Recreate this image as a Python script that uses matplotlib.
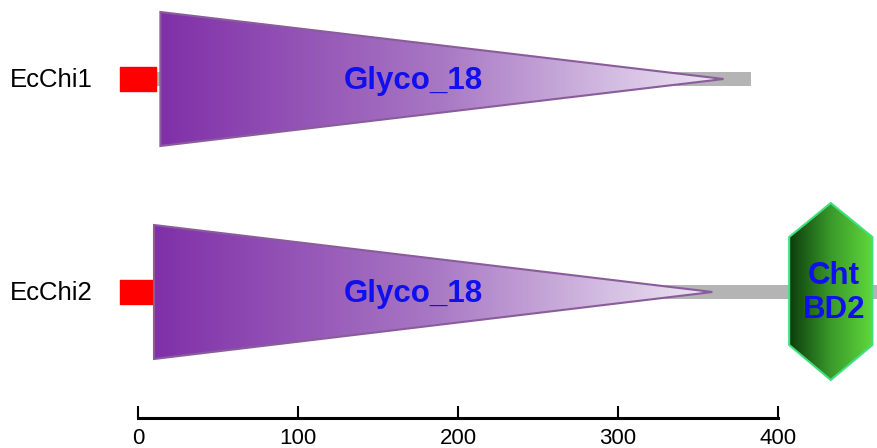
import numpy as np
import matplotlib
matplotlib.use("Agg")
import matplotlib.pyplot as plt
from matplotlib.patches import Polygon, Rectangle
from matplotlib.colors import LinearSegmentedColormap

plt.rcParams["font.family"] = ["Liberation Sans", "DejaVu Sans"]

# protein data (amino acid positions)
proteins = ["EcChi1", "EcChi2"]
lengths = [383, 470]
signal_start = [-11, -11]
signal_end = [11, 9]
glyco_start = [14, 10]
glyco_end = [366, 359]
cbd_start = [None, 407]
cbd_end = [None, 459]
ticks = [0, 100, 200, 300, 400]

# layout (vertical in pixel units)
row_y = [79, 292]
tri_half = 67
bar_half = 7
sp_half = 12

fig = plt.figure(figsize=(8.77, 4.48), dpi=100)
ax = fig.add_axes([0, 0, 1, 1])
ax.set_xlim(-86.25, 461.9)
ax.set_ylim(448, 0)

purple = LinearSegmentedColormap.from_list("p", ["#8030a8", "#a878c4", "#efe8f4"])
green = LinearSegmentedColormap.from_list("g", ["#0c3c0c", "#3a9a2a", "#60d83c"])
grad = np.linspace(0, 1, 256).reshape(1, -1)

for i, name in enumerate(proteins):
    y = row_y[i]
    # backbone
    ax.add_patch(Rectangle((0, y - bar_half), lengths[i], 2 * bar_half,
                           facecolor="#b4b4b4", edgecolor="none", zorder=1))
    # signal peptide
    ax.add_patch(Rectangle((signal_start[i], y - sp_half), signal_end[i] - signal_start[i],
                           2 * sp_half, facecolor="#ff0000", edgecolor="#ff0000",
                           linewidth=1, joinstyle="round", zorder=3))
    # Glyco_18 triangle with gradient
    tri = Polygon([(glyco_start[i], y - tri_half), (glyco_end[i], y),
                   (glyco_start[i], y + tri_half)], closed=True,
                  facecolor="none", edgecolor="#8a5c9c", linewidth=1.5, zorder=4)
    im = ax.imshow(grad, cmap=purple, aspect="auto", zorder=3,
                   extent=(glyco_start[i], glyco_end[i], y + tri_half, y - tri_half))
    ax.add_patch(tri)
    im.set_clip_path(tri)
    ax.text(172, y + 2, "Glyco_18", color="#1010ee",
            fontsize=22.5, fontweight="bold", ha="center", va="center", zorder=5)
    ax.text(-80, y + 1, name, fontsize=18.5, ha="left", va="center")

    if cbd_start[i] is not None:
        x0, x1 = cbd_start[i], cbd_end[i]
        xm = (x0 + x1) / 2
        hexa = Polygon([(xm, y - 89), (x1, y - 55), (x1, y + 53), (xm, y + 88),
                        (x0, y + 53), (x0, y - 55)], closed=True,
                       facecolor="none", edgecolor="#40e080", linewidth=1.5, zorder=4)
        im2 = ax.imshow(grad, cmap=green, aspect="auto", zorder=3,
                        extent=(x0, x1, y + 89, y - 89))
        ax.add_patch(hexa)
        im2.set_clip_path(hexa)
        ax.text(xm + 2, y + 1, "Cht\nBD2", color="#1010ee", fontsize=22.5, fontweight="bold",
                ha="center", va="center", linespacing=1.2, zorder=5)

# scale axis
for s in ["top", "left", "right"]:
    ax.spines[s].set_visible(False)
ax.spines["bottom"].set_position(("data", 418))
ax.spines["bottom"].set_bounds(0, 400)
ax.spines["bottom"].set_linewidth(2.2)
ax.set_xticks(ticks)
ax.tick_params(axis="x", direction="in", length=9, width=1.5, labelsize=16, pad=7)
ax.set_yticks([])

fig.savefig("out.png", dpi=100)
